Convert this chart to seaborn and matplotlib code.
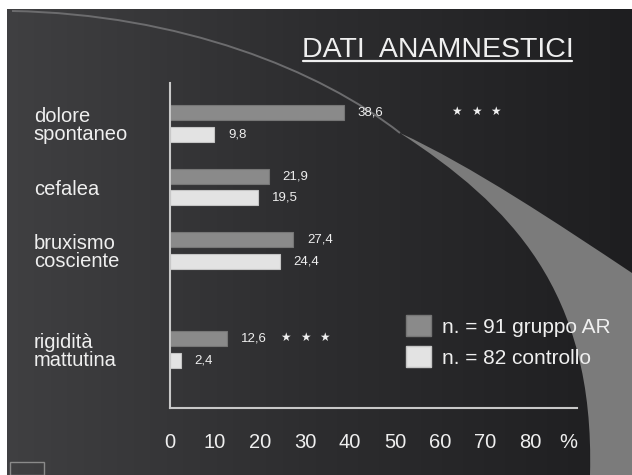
import numpy as np
import pandas as pd
import matplotlib.pyplot as plt
import seaborn as sns
from matplotlib.patches import Patch, PathPatch, Rectangle
from matplotlib.path import Path
from matplotlib.lines import Line2D

# data
categories = ["dolore\nspontaneo", "cefalea", "bruxismo\ncosciente", "rigidità\nmattutina"]
gruppo_ar = [38.6, 21.9, 27.4, 12.6]
controllo = [9.8, 19.5, 24.4, 2.4]
series_names = ["n. = 91 gruppo AR", "n. = 82 controllo"]
x_ticks = [0, 10, 20, 30, 40, 50, 60, 70, 80]
significance = [3, 0, 0, 3]  # number of stars

# layout only: vertical slot of each group (rigidità sits lower on the slide)
group_pos = [0, 1, 2, 3.56]
star_x = [68, None, None, 30]

W, H = 632, 475
TXT = "#efefef"
GREY = "#8a8a8a"
LIGHT = "#e3e3e3"

sns.set_style("white")
plt.rcParams["font.family"] = ["Liberation Sans", "DejaVu Sans"]

df = pd.DataFrame({
    "pos": group_pos * 2,
    "value": gruppo_ar + controllo,
    "serie": [series_names[0]] * 4 + [series_names[1]] * 4,
})

fig = plt.figure(figsize=(W / 100, H / 100), dpi=100)

# slide background
bg = fig.add_axes([0, 0, 1, 1], zorder=0)
bg.set_xlim(0, W)
bg.set_ylim(H, 0)
bg.axis("off")
grad = np.linspace(0, 1, 256)[None, :]
bg.imshow(grad, cmap=sns.blend_palette(["#404042", "#2d2d2f", "#1e1e20"], as_cmap=True),
          extent=(0, W, H, 0), aspect="auto")
bg.add_patch(Rectangle((0, 0), W, 9, color="white", lw=0))
bg.add_patch(Rectangle((0, 0), 7, H, color="white", lw=0))

# decorative swoosh
arc = Path([(12, 11), (180, 14), (320, 70), (400, 133)],
           [Path.MOVETO, Path.CURVE4, Path.CURVE4, Path.CURVE4])
bg.add_patch(PathPatch(arc, fill=False, ec="#6c6c6e", lw=1.4))
band = Path([(400, 133), (470, 165), (560, 225), (632, 273),
             (632, 475), (590, 475),
             (595, 290), (510, 205), (400, 133), (400, 133)],
            [Path.MOVETO, Path.CURVE4, Path.CURVE4, Path.CURVE4,
             Path.LINETO, Path.LINETO,
             Path.CURVE4, Path.CURVE4, Path.CURVE4, Path.CLOSEPOLY])
bg.add_patch(PathPatch(band, fc="#7b7b7b", ec="none"))
bg.add_patch(Rectangle((10, 462), 34, 13, fill=False, ec="#8a8a8a", lw=1))

# chart
ax = fig.add_axes([170 / W, 1 - 408 / H, 407 / W, 325 / H], zorder=1)
ax.set_facecolor("none")
sns.barplot(data=df, x="value", y="pos", hue="serie", hue_order=series_names,
            palette=[GREY, LIGHT], orient="y", native_scale=True,
            width=0.68, gap=0.3, legend=False, ax=ax)
for cont, ec in zip(ax.containers, ["#767676", "#c4c4c4"]):
    for b in cont:
        b.set_edgecolor(ec)
        b.set_linewidth(0.8)
    ax.bar_label(cont, labels=[f"{b.get_width():.1f}".replace(".", ",") for b in cont],
                 padding=10, fontsize=9.5, color=TXT)

# significance stars
for i, n in enumerate(significance):
    for k in range(n):
        ax.annotate("\u2605", (star_x[i], group_pos[i] - 0.19),
                    xytext=((k - (n - 1) / 2) * 14, 0), textcoords="offset points",
                    ha="center", va="center", fontsize=8.5, color=TXT,
                    family="DejaVu Sans")

ax.set_xlim(0, 407 / 4.5)
ax.set_ylim(4.48, -0.64)
ax.set_xticks(x_ticks)
ax.set_xticklabels([str(t) for t in x_ticks])
ax.set_yticks(group_pos)
ax.set_yticklabels(categories)
for lbl in ax.get_yticklabels():
    lbl.set_horizontalalignment("left")
    lbl.set_linespacing(0.95)
ax.tick_params(axis="y", length=0, pad=98, labelsize=14.5, labelcolor=TXT)
ax.tick_params(axis="x", length=0, pad=18, labelsize=14.5, labelcolor=TXT)
ax.set_xlabel("")
ax.set_ylabel("")
for side in ["top", "right"]:
    ax.spines[side].set_visible(False)
for side in ["left", "bottom"]:
    ax.spines[side].set_color("#c8c8c8")
    ax.spines[side].set_linewidth(1.5)

handles = [Patch(fc=GREY, ec="#767676"), Patch(fc=LIGHT, ec="#c4c4c4")]
ax.legend(handles, series_names, loc="upper left",
          bbox_to_anchor=(406 / W, 1 - 315 / H), bbox_transform=fig.transFigure,
          frameon=False, fontsize=15, labelcolor=TXT, handlelength=1.2,
          handleheight=1.2, handletextpad=0.55, labelspacing=0.45,
          borderpad=0, borderaxespad=0)

fig.text(568 / W, 1 - 442 / H, "%", ha="center", va="center", fontsize=14.5, color=TXT)
fig.text(437.5 / W, 1 - 57 / H, "DATI  ANAMNESTICI", ha="center", va="baseline",
         fontsize=20.5, color=TXT)
fig.add_artist(Line2D([303 / W, 572 / W], [1 - 61 / H] * 2, transform=fig.transFigure,
                      color=TXT, lw=1.6))

fig.savefig("out.png", dpi=100)
